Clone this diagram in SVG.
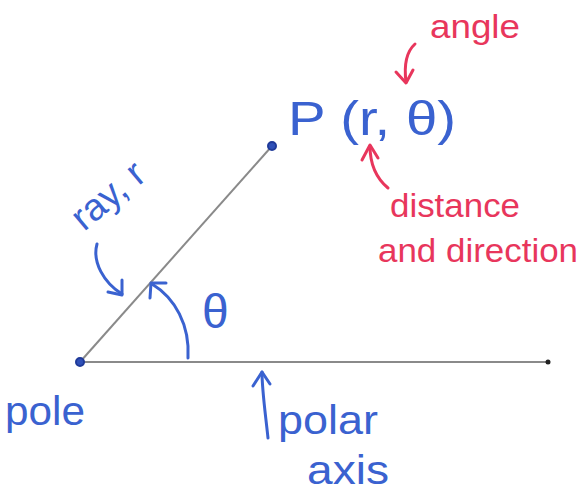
<svg xmlns="http://www.w3.org/2000/svg" width="580" height="497" viewBox="0 0 580 497">
<style>
.blue{fill:#3a62d0;font-family:"Liberation Sans",Arial,sans-serif;}
.red{fill:#e8365c;font-family:"Liberation Sans",Arial,sans-serif;}
.barr{fill:none;stroke:#3a62d0;stroke-width:3;stroke-linecap:round;stroke-linejoin:round;}
.rarr{fill:none;stroke:#e8365c;stroke-width:3;stroke-linecap:round;stroke-linejoin:round;}
.line{stroke:#8a8a8a;stroke-width:2;}
.dot{fill:#2f50b8;stroke:#1f3a99;stroke-width:2;}
</style>
<rect width="580" height="497" fill="#ffffff"/>
<g id="connectors">
<line class="line" x1="80" y1="362" x2="548" y2="362"/>
<line class="line" x1="80" y1="362" x2="272" y2="146"/>
<circle cx="548" cy="362" r="2.5" fill="#222"/>
<path class="barr" d="M188,358 C190,325 175,298 152,284"/>
<path class="barr" d="M150,298 L151,283 L166,283"/>
<path class="barr" d="M97,244 C92,262 104,283 122,294"/>
<path class="barr" d="M108,292 L122,295 L122,280"/>
<path class="barr" d="M268,438 C265,410 262,390 262,372"/>
<path class="barr" d="M253,386 L262,372 L270,384"/>
<path class="rarr" d="M415,44 C406,52 404,66 406,82"/>
<path class="rarr" d="M396,72 L406,83 L413,70"/>
<path class="rarr" d="M388,188 C376,178 370,164 370,146"/>
<path class="rarr" d="M362,160 L370,145 L378,158"/>
</g>
<g id="pole">
<circle class="dot" cx="80" cy="362" r="4"/>
<text class="blue" x="5" y="425" font-size="40" textLength="80" lengthAdjust="spacingAndGlyphs">pole</text>
</g>
<g id="point-P">
<circle class="dot" cx="272" cy="146" r="4"/>
<text class="blue" x="288" y="135" font-size="48" textLength="168" lengthAdjust="spacingAndGlyphs">P (r, θ)</text>
</g>
<g id="ray">
<text class="blue" x="84" y="232" font-size="38" transform="rotate(-40 84 232)">ray, r</text>
</g>
<g id="theta">
<text class="blue" x="202" y="328" font-size="48">θ</text>
</g>
<g id="polar-axis">
<text class="blue" x="278" y="434" font-size="40" textLength="100" lengthAdjust="spacingAndGlyphs">polar</text>
<text class="blue" x="307" y="484" font-size="40" textLength="82" lengthAdjust="spacingAndGlyphs">axis</text>
</g>
<g id="angle">
<text class="red" x="430" y="38" font-size="34" textLength="90" lengthAdjust="spacingAndGlyphs">angle</text>
</g>
<g id="distance">
<text class="red" x="390" y="217" font-size="34" textLength="130" lengthAdjust="spacingAndGlyphs">distance</text>
<text class="red" x="378" y="262" font-size="34" textLength="200" lengthAdjust="spacingAndGlyphs">and direction</text>
</g>
</svg>
